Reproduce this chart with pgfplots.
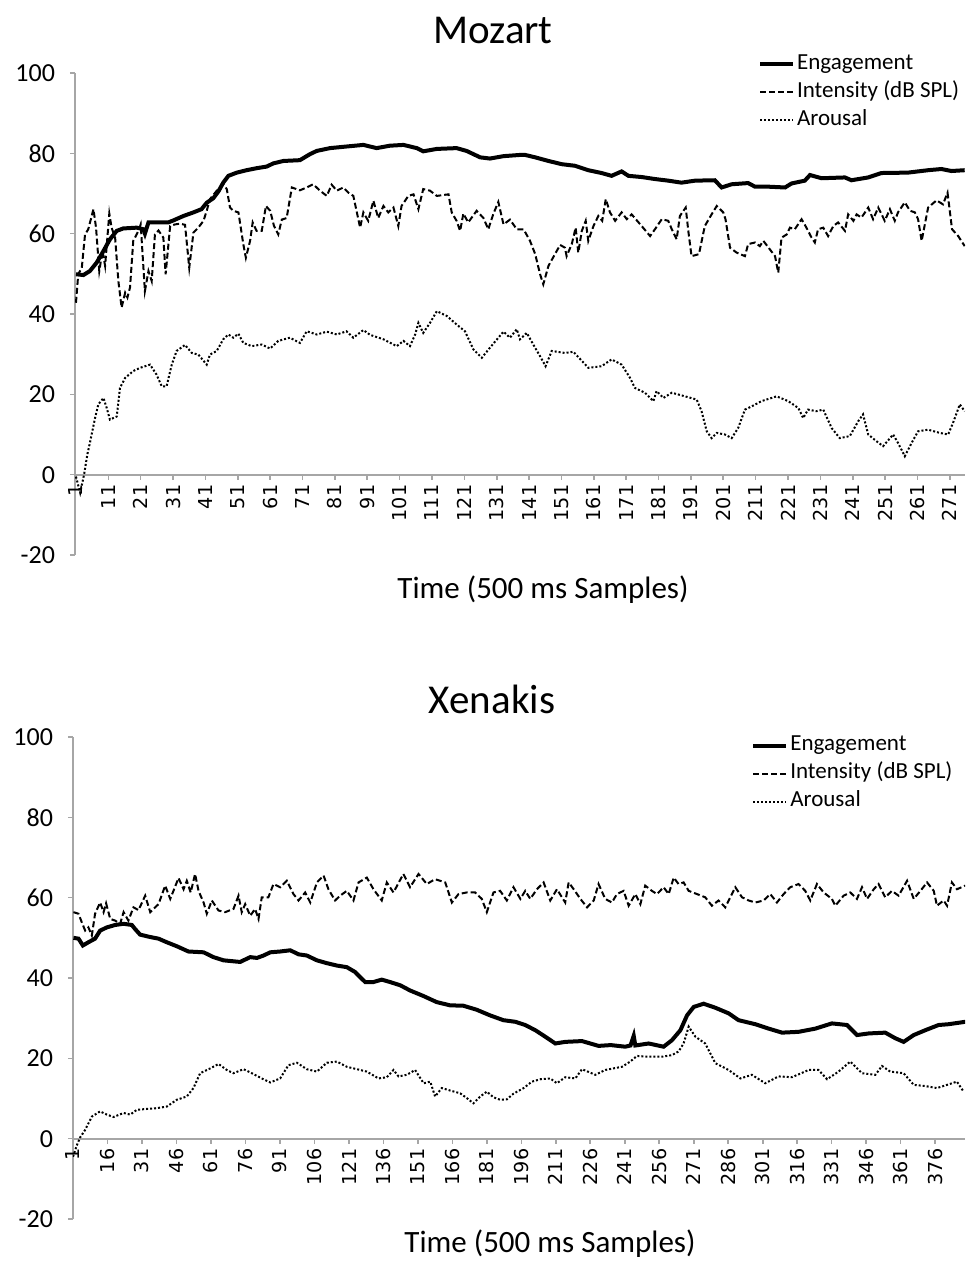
\documentclass[border=0pt]{standalone}
\usepackage{fontspec}
\setmainfont{Carlito}
\newfontfamily\dejavu{DejaVu Sans}
\usepackage{pgfplots}
\pgfplotsset{compat=1.18}

% 1 px of the reference = 0.5pt
\pgfplotsset{
  eegchart/.style={
    scale only axis, width=445pt, height=241pt,
    ymin=-20, ymax=100, ytick={-20,0,...,100},
    axis y line=left, axis x line=middle,
    hide obscured x ticks=false, hide obscured y ticks=false,
    axis line style={draw=black!35, line width=1pt, -},
    tick style={draw=black!35, line width=0.8pt},
    tick align=outside, major tick length=2.5pt,
    /pgf/number format/assume math mode=true,
    yticklabel style={font=\fontsize{13}{13}\selectfont, xshift=-4pt},
    xticklabel style={font=\dejavu\fontsize{9.6}{9.6}\selectfont, rotate=90, anchor=east, xshift=1pt},
    no markers, clip=true,
    legend image code/.code={\draw[##1] (0pt,0pt) -- (16.5pt,0pt);},
    legend style={draw=none, fill=none, inner sep=0pt, anchor=north west,
      font=\fontsize{11.5}{11.5}\selectfont,
      nodes={inner sep=0pt, text height=9.5pt, text depth=4.5pt},
      /tikz/every odd column/.append style={column sep=1pt}},
    legend cell align=left,
  },
  engage/.style={black, line width=2pt},
  intens/.style={black, line width=1pt, dash pattern=on 3pt off 1.5pt},
  arous/.style={black, line width=1pt, dash pattern=on 1pt off 1pt},
}

\begin{document}
\begin{tikzpicture}
\useasboundingbox (0,0) rectangle (482.5pt,-632pt);

% ---------------- Mozart ----------------
\begin{axis}[eegchart, at={(37.5pt,-277.5pt)}, anchor=south west,
  xmin=0.7, xmax=275.7, xtick={1,11,...,271},
  legend style={at={(0.767,1.048)}}]
\addplot[engage] coordinates {
(1,49.9)(3.3,49.7)(5.3,50.7)(7.4,52.8)(9.5,55.7)(11.5,58.6)(13.6,60.7)(15.6,61.3)
(19.8,61.5)(21.8,61.1)(22.3,60.0)(23.4,62.8)(25.9,62.8)(29.5,62.8)(31.1,63.3)
(34.2,64.4)(37.3,65.3)(39.8,66.1)(41.4,67.7)(43.4,68.8)(45,70.5)(46.5,72.7)
(48.1,74.4)(50.7,75.2)(53.7,75.8)(56.8,76.3)(59.9,76.7)(62,77.5)(65.1,78.1)
(70.2,78.3)(73.3,79.8)(75.4,80.6)(79.5,81.3)(84.6,81.7)(89.8,82.1)(93.9,81.3)
(98,81.9)(102.2,82.1)(106.3,81.3)(108.3,80.5)(112.5,81.1)(118.6,81.3)(121.7,80.6)
(125.9,79.0)(128.9,78.7)(133.1,79.3)(138.2,79.6)(139.8,79.6)(142.9,79.0)(147,78.1)
(151.1,77.3)(155.2,76.9)(159.3,75.8)(163.4,75.1)(166.5,74.4)(169.6,75.5)(171.7,74.4)
(175.8,74.1)(179.9,73.6)(184,73.2)(188.1,72.7)(192.3,73.2)(198.4,73.3)(200.5,71.5)
(203.6,72.3)(208.7,72.6)(210.8,71.7)(214.9,71.7)(220.1,71.5)(222.1,72.5)(226.2,73.2)
(227.8,74.6)(231.4,73.8)(238.6,74.0)(240.6,73.3)(245.8,74.0)(249.9,75.1)(258.1,75.2)
(264.3,75.8)(268.4,76.1)(271.5,75.6)(275.6,75.8)};
\addlegendentry{Engagement}
\addplot[intens] coordinates {
(1,42.8)(1.7,49.9)(2.8,51.5)(3.8,59.8)(4.8,61.1)(6.4,66.1)(7.2,61.5)(8.2,50.7)
(9.2,55.7)(10,52)(10.7,59)(11.3,65)(12,61.5)(13.1,59)(14.1,48.2)(15.1,41.6)
(16.2,45.3)(16.9,44.1)(17.7,46.6)(18.7,58.2)(20.3,60.7)(21,62.3)(22.3,45.7)
(23.4,50.7)(24.4,48.2)(25.4,59.8)(26.5,60.8)(28,59)(28.7,49.9)(30.1,61.9)
(31.6,62.3)(33.1,62.5)(34.7,62.2)(36,51.5)(37.3,60.3)(38.8,61.5)(40.4,63.2)
(41.4,65.7)(42.4,68.6)(44.5,70.7)(46.5,72.3)(47.6,71.1)(48.6,66.5)(49.6,65.7)
(51.2,65.3)(52.7,57.4)(53.5,54)(54.8,58.2)(55.6,62.8)(56.8,60.7)(58.4,60.7)
(59.7,66.9)(61,65.7)(62.2,61.9)(63.5,59.8)(64.6,63.5)(66.1,63.9)(67.7,71.5)
(70.2,70.8)(72.3,71.5)(74.3,72.3)(76.4,70.7)(78.5,69.4)(80,72.2)(81.6,70.7)
(83.6,71.5)(85.2,70.2)(86.7,69.4)(88.8,61.5)(89.8,65.3)(91.3,63.2)(92.9,68.2)
(94.4,63.9)(96,66.9)(97.5,65.3)(99.1,66.5)(100.6,61.9)(101.6,66.9)(103.7,69.4)
(105.3,69.8)(106.8,66.1)(108.3,71.1)(110.4,70.7)(112.5,69.4)(116.1,69.8)(117.1,65.3)
(118.6,63.2)(119.7,60.7)(120.7,65)(122.2,62.8)(124.8,65.7)(126.9,63.9)(128.4,61.1)
(130,65)(131.5,67.9)(133.1,62.3)(135.1,63.5)(137.2,61.1)(139.3,61.1)(141.3,58.2)
(142.9,54.9)(144.4,49.9)(145.4,47.4)(147,52)(149,54.9)(150.6,57.2)(152.1,56.5)
(152.6,54.4)(154.2,57.4)(155.4,61.5)(156.2,55.3)(157.3,60.7)(158.5,63.2)(159.3,58.2)
(160.9,61.9)(162.4,64.4)(163.6,63.2)(164.7,68.6)(166,65.3)(167.6,63.2)(169.6,65.3)
(171.2,63.6)(172.7,64.8)(175.8,61.9)(178.4,59.4)(179.9,61.1)(182,63.6)(184,63.2)
(185.1,61.1)(186.6,58.6)(187.6,64.4)(189.4,66.5)(190.2,60.7)(191.2,54.4)(193.5,54.9)
(195.3,61.9)(197.4,64.8)(199,66.9)(201,65.3)(201.7,63.6)(203.1,56.5)(205.1,55.3)
(207.7,54.4)(208.7,57.4)(210.8,57.8)(212.3,56.9)(213.4,58.2)(215.4,56.1)(217,54.4)
(218,50.3)(219,59)(220.6,59.8)(221.6,61.5)(223.1,61.1)(225.2,63.6)(226.7,61.5)
(228.3,59)(229.3,57.8)(230.3,61.1)(231.9,61.5)(233.4,59.4)(235,61.9)(236.5,62.8)
(238.6,60.7)(239.6,64.8)(241.2,63.2)(242.2,64.8)(243.7,64)(245.8,66.5)(247.3,63.6)
(248.9,66.5)(250.9,63.2)(252.5,66.1)(254,63.2)(255,65.3)(257.1,67.8)(258.7,65.7)
(260.2,65.3)(261.2,63.6)(262.3,58.2)(264.3,66.5)(266.9,68.3)(268.9,67.3)(270.3,70.2)
(271.7,61.1)(273.6,59.4)(275.6,56.9)};
\addlegendentry{Intensity (dB SPL)}
\addplot[arous] coordinates {
(1,-0.5)(2.3,-4.5)(3.5,0)(4.5,5)(5.3,7.9)(6.9,14.1)(7.9,17.5)(9.5,19.1)(10.5,16.6)
(11.5,13.7)(13.6,14.5)(14.6,21.6)(16.2,24.1)(18.7,25.8)(20.8,26.6)(23.9,27.4)
(25.9,24.9)(27.5,22)(29,22)(30.6,27.4)(32.1,30.8)(34.7,32.3)(36.8,30.3)(38.8,29.9)
(41.4,27.4)(42.4,29.9)(44.5,30.8)(46.5,33.7)(48.1,34.9)(49.6,34.1)(51.2,35.1)
(52.7,32.8)(55.3,32)(58.4,32.4)(61,31.4)(63.5,33.3)(67.1,34.1)(70.2,32.8)(72.3,35.7)
(75.4,34.9)(78.5,35.6)(81.6,34.9)(84.6,35.7)(86.7,34.1)(89.8,36)(91.9,34.8)(96,33.7)
(100.1,32)(102.2,33.3)(104.2,32)(105.8,34.9)(106.8,37.8)(108.3,35.3)(110.4,37.8)
(112.5,40.7)(115.6,39.5)(118.6,37.4)(121.2,35.7)(123.8,31.2)(126.4,29.1)(128.9,31.6)
(133.1,35.6)(135.1,34.1)(137.2,36.2)(138.2,33.7)(140.3,35.3)(142.3,32.4)(144.4,29.5)
(146.1,27)(148,30.8)(152.1,30.3)(154.7,30.6)(159.3,26.6)(163.4,27)(166.5,28.7)
(169.6,27.4)(172.2,24.1)(173.7,21.6)(176.8,20.4)(179.4,18.3)(180.4,20.8)(182.5,19.1)
(185.1,20.4)(189.2,19.5)(192.8,18.7)(194.3,15.8)(195.9,10.8)(197.4,9.1)(199,10.4)
(201.5,10)(203.6,9.1)(205.6,11.6)(207.7,16.2)(209.8,17)(212.8,18.3)(217.5,19.5)
(221.1,18.3)(224.2,16.6)(225.7,14.1)(227.2,16.2)(229.8,15.8)(231.9,16.2)(234.5,11.6)
(237,9.1)(240.1,9.6)(242.7,13.3)(244.2,15)(245.8,10)(248.4,8.3)(250.4,7.1)(253.5,10)
(255,7.9)(257.1,4.6)(259.2,7.9)(261.2,10.8)(264.3,11.2)(267.9,10.4)(270.5,10)
(272,12.9)(274.1,17.5)(275.6,15.8)};
\addlegendentry{Arousal}
\end{axis}

% ---------------- Xenakis ----------------
\begin{axis}[eegchart, at={(36.5pt,-609.5pt)}, anchor=south west, width=446pt,
  xmin=1, xmax=389, xtick={1,16,...,376},
  legend style={at={(0.760,1.012)}}]
\addplot[engage] coordinates {
(1.2,50)(3.4,49.8)(5.3,48.1)(7.7,48.9)(10.6,49.8)(12.8,51.8)(15.7,52.6)(19.3,53.2)
(23,53.5)(26.6,53.2)(28,52.2)(30.2,50.8)(34.6,50.2)(38.2,49.8)(41.8,48.9)(46.2,47.9)
(51.2,46.6)(57.8,46.4)(62.1,45.2)(66.5,44.4)(73.7,44)(78.1,45.2)(81,45)(83.9,45.6)
(86.8,46.4)(91.1,46.6)(95.5,46.9)(99.1,45.9)(102.7,45.6)(107.1,44.4)(111.4,43.7)
(115.8,43.1)(120.1,42.7)(123.7,41.5)(125.9,40.2)(128.1,39)(131.7,39)(135.3,39.6)
(138.9,39)(143.3,38.2)(147.6,36.9)(153.5,35.5)(159.2,34)(165,33.2)(170.8,33.1)
(176.6,32.1)(182.4,30.7)(188.2,29.5)(193.4,29.1)(197.7,28.3)(202.1,27)(206.4,25.4)
(210.8,23.7)(215.1,24.1)(222.4,24.3)(229.6,23.1)(234.9,23.3)(241.2,22.9)(243.5,23.2)
(244.9,25.6)(245.6,23.2)(251.4,23.7)(257.9,22.9)(261.5,24.5)(265.2,27)(268.1,30.7)
(271,32.8)(275.3,33.6)(280.4,32.6)(286.2,31.2)(290.5,29.5)(297.8,28.5)(303.6,27.4)
(309.4,26.4)(316.6,26.6)(323.9,27.4)(331.1,28.7)(337.7,28.3)(342,25.8)(347.1,26.2)
(354.3,26.4)(358.7,25)(362.3,24.1)(366.7,25.8)(371.7,27)(377.5,28.3)(381.9,28.5)
(389.1,29.1)};
\addlegendentry{Engagement}
\addplot[intens] coordinates {
(1.2,56.4)(3.4,56)(4.8,53.9)(6.3,51.8)(7.7,52.6)(9.2,50.6)(10.6,56)(12.8,58.8)
(14.3,56.4)(15.4,58.6)(17.2,54.7)(19.3,54.3)(21.5,53.5)(23,56.4)(25.1,54.3)(27.3,57.6)
(29.5,56.9)(32.4,60.5)(34.6,56.4)(38.2,58.4)(41.1,63)(43.3,59.7)(44.7,61.7)(46.9,64.9)
(49.1,62.1)(50.5,64.2)(52.2,61.3)(54.1,65.9)(55.6,61.7)(57.8,58.8)(59.2,56)(61.4,59.3)
(64.3,56.8)(67.2,56.4)(70.8,57.2)(73,60.5)(74.4,56.4)(75.9,58.4)(78.1,55.5)(80.2,57.2)
(81.7,54.7)(83.1,60.1)(86,60.1)(88.2,63.4)(91.1,62.6)(94,64.2)(96.9,60.9)(99.1,59.3)
(102,61.3)(104.2,58.8)(107.1,63.8)(110,65.5)(112.1,62.1)(115,59.3)(117.2,60.5)
(120.1,61.7)(123,59.3)(125.2,63.8)(128.8,65)(131.7,62.1)(135.3,59.3)(137.5,63.8)
(140.4,61.3)(144.7,65.9)(147.6,62.6)(151.3,65.9)(154.9,63.4)(158.5,64.6)(162.9,63.8)
(165.8,58.8)(168.7,60.9)(172.3,61.3)(175.9,61.3)(178.8,59.7)(181,56.4)(183.9,61.3)
(186.8,61.7)(189.7,59.3)(192.6,62.6)(195.6,59.7)(197.7,61.7)(199.9,59.7)(202.8,62.1)
(205.7,63.8)(208.6,59.3)(211.5,62.1)(215.1,58.8)(216.6,63.8)(218.8,62.1)(221.7,59.7)
(224.6,57.6)(227.5,59.3)(229.6,63.4)(232.5,59.7)(235.4,58.8)(237.6,60.9)(240.5,61.7)
(242.7,58)(245.6,60.9)(247.8,58.4)(249.9,63)(252.8,61.7)(255,60.9)(257.9,62.6)
(260.1,60.9)(262.3,65)(264.4,63.4)(266.6,63.8)(268.8,61.7)(272.4,60.9)(276,60.1)
(278.9,58)(281.8,59.3)(284.7,57.6)(287.6,60.9)(289.1,62.6)(292,60.1)(294.9,59.3)
(297.8,58.8)(301.4,59.3)(304.3,60.9)(307.2,58.8)(310.1,60.9)(313,62.6)(316.6,63.4)
(319.5,61.7)(321.7,59.3)(324.6,63.4)(327.5,61.3)(331.1,59.7)(332.6,58)(336.2,60.5)
(339.1,61.3)(342,59.7)(344.2,62.6)(346.4,59.7)(349.3,62.1)(351.4,63.4)(354.3,60.1)
(357.2,61.7)(360.1,60.5)(363.8,64.2)(366.7,59.7)(369.6,61.7)(372.5,63.8)(375.4,61.7)
(376.8,58)(379.7,59.3)(381.2,58)(383.3,63.8)(385.5,62.1)(389.1,63)};
\addlegendentry{Intensity (dB SPL)}
\addplot[arous] coordinates {
(1,-4.5)(2.5,-1.9)(4.1,0.3)(6.3,2.2)(9.2,5.5)(12.8,6.8)(15.7,6)(18.6,5.4)(23,6.4)
(25.9,6)(28.8,7.2)(33.1,7.4)(37.5,7.6)(41.8,8)(46.2,9.7)(50.5,10.5)(53.4,12.6)
(56.3,16.3)(60.7,17.5)(64.3,18.6)(67.9,17.1)(70.8,16.3)(75.2,17.3)(78.8,16.3)(83.1,15)
(86.8,14)(91.1,15)(94.7,18.3)(98.4,18.9)(102.7,17.3)(107.1,16.7)(111.4,18.9)
(115.8,19.2)(120.1,17.9)(124.5,17.3)(128.8,16.7)(133.9,15)(137.5,15.3)(140.4,17.1)
(142.6,15.5)(146.2,15.9)(149.8,17.1)(153.5,13.8)(156.4,14.2)(158.5,10.5)(161.4,12.6)
(165,12)(169.4,11.3)(172.3,10.1)(175.2,8.8)(178.1,10.5)(181,11.7)(183.9,10.3)
(186.8,9.7)(189.7,9.8)(192.6,11.2)(197,12.6)(200.6,14.2)(204.3,14.8)(208.6,15)
(211.5,13.8)(215.1,15.3)(219.5,15)(222.4,17.3)(228.2,15.9)(232.5,17.1)(239.8,17.9)
(243.4,19.2)(246.3,20.6)(251.4,20.4)(257.2,20.4)(261.5,20.8)(264.4,21.7)(266.6,23.7)
(268.8,27.9)(271.7,25.4)(276,23.7)(280.4,18.8)(286.2,17.1)(291.3,15)(296.3,15.9)
(302.1,13.8)(307.9,15.5)(313.7,15.3)(321,17.1)(325.3,17.1)(329,14.8)(334,16.7)
(339.1,19.2)(344.2,16.3)(350,15.9)(352.9,18.1)(356.5,16.7)(362.3,16.3)(366.7,13.4)
(371.7,13.1)(376.8,12.6)(381.2,13.4)(385.5,14.2)(388.4,11.7)};
\addlegendentry{Arousal}
\end{axis}

% titles and axis labels
\node[anchor=base, font=\fontsize{20.5}{20.5}\selectfont] at (246.5pt,-21.5pt) {Mozart};
\node[anchor=base, font=\fontsize{20.5}{20.5}\selectfont] at (246pt,-356.5pt) {Xenakis};
\node[anchor=base, font=\fontsize{15.5}{15.5}\selectfont] at (271.5pt,-299pt) {Time (500 ms Samples)};
\node[anchor=base, font=\fontsize{15.5}{15.5}\selectfont] at (275pt,-626pt) {Time (500 ms Samples)};
\end{tikzpicture}
\end{document}
